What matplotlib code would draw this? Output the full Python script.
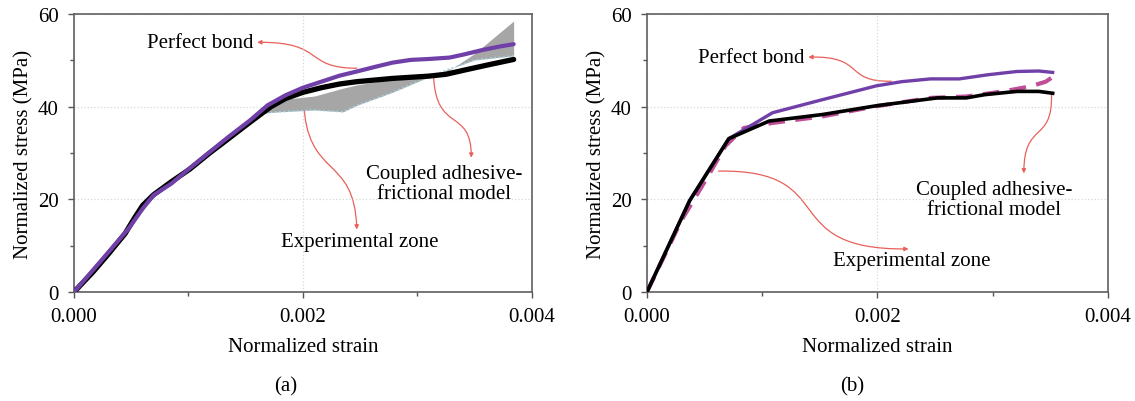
import matplotlib
matplotlib.use("Agg")
import matplotlib.pyplot as plt
from matplotlib.patches import FancyArrowPatch
from matplotlib.path import Path
from matplotlib.ticker import MultipleLocator

plt.rcParams['font.family'] = ['Liberation Serif', 'DejaVu Serif']

# ---- panel (a) data ----
a_bond_x = [0, 0.000228, 0.000477, 0.00060, 0.000695, 0.00085, 0.00101, 0.00119, 0.00135,
            0.00154, 0.00169, 0.00185, 0.00200, 0.00216, 0.00232, 0.00247, 0.00263,
            0.00278, 0.00294, 0.00310, 0.00328, 0.00341, 0.00356, 0.00372, 0.00384]
a_bond_y = [0, 6.5, 13.7, 18.0, 20.9, 23.4, 26.7, 30.3, 33.5, 37.1, 40.3, 42.5, 44.1,
            45.4, 46.7, 47.6, 48.6, 49.5, 50.1, 50.3, 50.6, 51.3, 52.2, 53.0, 53.5]

a_model_x = [0, 0.000165, 0.00029, 0.000446, 0.000524, 0.00060, 0.000695, 0.00085,
             0.00101, 0.00119, 0.00135, 0.00154, 0.00172, 0.00185, 0.00200, 0.00216,
             0.00232, 0.00247, 0.00278, 0.00310, 0.00325, 0.00341, 0.00363, 0.00384]
a_model_y = [0, 4.3, 7.9, 12.6, 15.8, 18.7, 21.0, 23.8, 26.5, 30.1, 33.1, 36.7, 40.0,
             41.8, 43.1, 44.1, 44.9, 45.4, 46.1, 46.6, 47.0, 47.9, 49.1, 50.2]

a_zone_x = [0.00160, 0.00179, 0.00210, 0.00235, 0.00247, 0.00279, 0.00300, 0.00325,
            0.00350, 0.00384]
a_zone_lo = [38.5, 38.9, 39.3, 38.9, 40.3, 43.2, 45.4, 47.9, 50.1, 51.0]
a_zone_hi = [38.5, 41.5, 42.3, 44.0, 44.7, 46.0, 46.6, 47.4, 51.5, 58.5]

# ---- panel (b) data ----
b_bond_x = [0, 0.00037, 0.00071, 0.00109, 0.00152, 0.00199, 0.00221, 0.00246, 0.00271,
            0.00296, 0.00321, 0.00340, 0.00352]
b_bond_y = [0, 19.7, 33.1, 38.7, 41.5, 44.5, 45.4, 46.0, 46.0, 46.9, 47.6, 47.7, 47.4]

b_exp_x = [0, 0.00037, 0.00071, 0.00106, 0.00152, 0.00199, 0.00230, 0.00252, 0.00277,
           0.00293, 0.00321, 0.00340, 0.00352]
b_exp_y = [0, 19.7, 33.1, 36.9, 38.3, 40.2, 41.2, 41.9, 41.9, 42.6, 43.3, 43.3, 42.9]

b_model_x = [0, 0.00030, 0.00053, 0.00068, 0.00084, 0.00109, 0.00152, 0.00199, 0.00246,
             0.00277, 0.00309, 0.00333, 0.00346, 0.00355]
b_model_y = [0, 15.5, 25.0, 31.5, 35.4, 36.5, 37.9, 40.1, 41.9, 42.2, 43.3, 44.4, 45.4, 46.9]

PURPLE = '#7040A8'
PINK = '#C04F98'
RED = '#E8605A'
FS = 15


def style_axes(ax):
    ax.set_xlim(0, 0.004)
    ax.set_ylim(0, 60)
    ax.xaxis.set_major_locator(MultipleLocator(0.002))
    ax.xaxis.set_minor_locator(MultipleLocator(0.001))
    ax.yaxis.set_major_locator(MultipleLocator(20))
    ax.yaxis.set_minor_locator(MultipleLocator(10))
    ax.xaxis.set_major_formatter(lambda v, p: f'{v:.3f}')
    ax.grid(True, which='major', color='#d8d8d8', linestyle=':', linewidth=0.9)
    ax.tick_params(which='major', direction='out', length=4, width=1, color='#555555',
                   labelsize=FS, pad=7)
    ax.tick_params(which='minor', direction='out', length=3, width=1, color='#555555')
    for s in ax.spines.values():
        s.set_color('#606060')
        s.set_linewidth(1.2)
    ax.set_xlabel('Normalized strain', fontsize=FS, labelpad=8)
    ax.set_ylabel('Normalized stress (MPa)', fontsize=FS, labelpad=3)


def curved_arrow(ax, p0, c1, c2, p3):
    path = Path([p0, c1, c2, p3], [Path.MOVETO, Path.CURVE4, Path.CURVE4, Path.CURVE4])
    arr = FancyArrowPatch(path=path, arrowstyle='-|>', mutation_scale=6,
                          color=RED, linewidth=0.9)
    ax.add_patch(arr)


fig = plt.figure(figsize=(11.35, 4.02), dpi=100)
ax_a = fig.add_axes([0.0652, 0.2711, 0.4035, 0.6915])
ax_b = fig.add_axes([0.5700, 0.2711, 0.4062, 0.6915])

# panel (a)
ax_a.fill_between(a_zone_x, a_zone_lo, a_zone_hi, color='#a6a6a6', linewidth=0, zorder=2)
ax_a.plot(a_zone_x, a_zone_lo, color='#9fd4e4', linestyle=':', linewidth=1.2, zorder=2)
ax_a.plot(a_model_x, a_model_y, color='black', linewidth=3.8, zorder=3,
          solid_capstyle='round', solid_joinstyle='round')
ax_a.plot(a_bond_x, a_bond_y, color=PURPLE, linewidth=3.0, zorder=4,
          solid_capstyle='round', solid_joinstyle='round')
style_axes(ax_a)

ax_a.text(0.00157, 53.9, 'Perfect bond', fontsize=FS, ha='right', va='center')
curved_arrow(ax_a, (0.00247, 48.3), (0.0020, 48.3), (0.0022, 54.0), (0.0016, 53.9))
ax_a.text(0.0025, 10.8, 'Experimental zone', fontsize=FS, ha='center', va='center')
curved_arrow(ax_a, (0.002005, 41.4), (0.00203, 24.0), (0.00245, 30.0), (0.00247, 13.5))
ax_a.text(0.00323, 23.4, 'Coupled adhesive-\nfrictional model', fontsize=FS,
          ha='center', va='center', linespacing=1.05)
curved_arrow(ax_a, (0.00314, 46.8), (0.00316, 34.0), (0.00347, 40.0), (0.00347, 29.0))

# panel (b)
ax_b.plot(b_model_x, b_model_y, color=PINK, linewidth=3.0, dashes=(4, 2.5), zorder=3)
ax_b.plot(b_bond_x, b_bond_y, color=PURPLE, linewidth=2.4, zorder=3)
ax_b.plot(b_exp_x, b_exp_y, color='black', linewidth=2.6, zorder=4)
style_axes(ax_b)

ax_b.text(0.00137, 50.6, 'Perfect bond', fontsize=FS, ha='right', va='center')
curved_arrow(ax_b, (0.00212, 45.5), (0.0017, 45.3), (0.0019, 51.0), (0.0014, 50.7))
ax_b.text(0.0023, 6.8, 'Experimental zone', fontsize=FS, ha='center', va='center')
curved_arrow(ax_b, (0.00062, 26.1), (0.0017, 26.5), (0.0011, 9.0), (0.00227, 9.3))
ax_b.text(0.00301, 19.9, 'Coupled adhesive-\nfrictional model', fontsize=FS,
          ha='center', va='center', linespacing=1.05)
curved_arrow(ax_b, (0.00351, 42.6), (0.00352, 32.0), (0.00327, 37.0), (0.00327, 25.6))

fig.text(0.252, 0.037, '(a)', fontsize=FS, ha='center', va='center')
fig.text(0.7507, 0.037, '(b)', fontsize=FS, ha='center', va='center')

fig.savefig('out.png', dpi=100)
